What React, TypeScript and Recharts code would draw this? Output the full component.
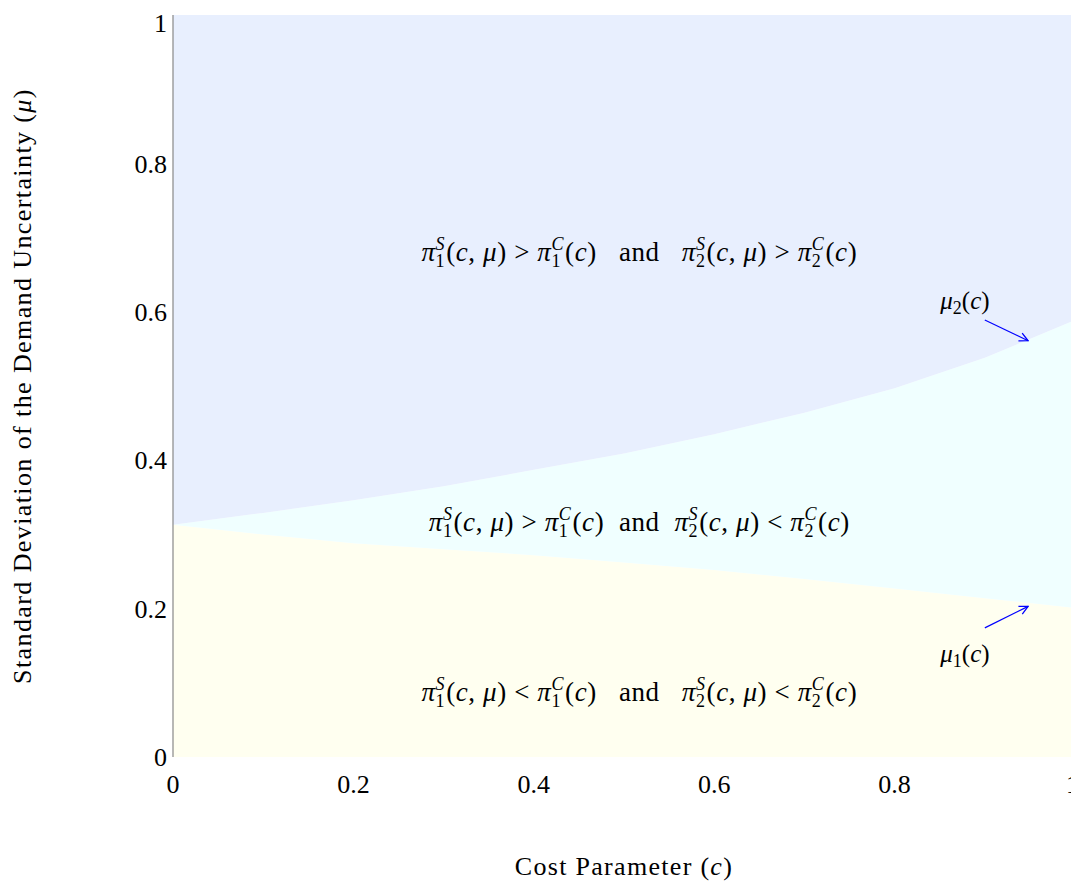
import React from 'react'
import {
  ComposedChart,
  Area,
  Line,
  Scatter,
  XAxis,
  YAxis,
  Label,
} from 'recharts'

const costs = [0, 0.1, 0.2, 0.3, 0.4, 0.5, 0.6, 0.7, 0.8, 0.9, 1]
const mu1 = [0.313, 0.3, 0.288, 0.28, 0.272, 0.262, 0.252, 0.24, 0.227, 0.214, 0.201]
const mu2 = [0.313, 0.329, 0.346, 0.365, 0.387, 0.409, 0.435, 0.464, 0.497, 0.538, 0.589]
const ticks = [0, 0.2, 0.4, 0.6, 0.8, 1]

const regionLabels = [
  { c: 0.517, mu: 0.68, id: 'top' },
  { c: 0.517, mu: 0.317, id: 'mid' },
  { c: 0.517, mu: 0.088, id: 'bottom' },
]
const curveLabels = [
  { c: 0.878, mu: 0.614, id: 'mu2' },
  { c: 0.878, mu: 0.139, id: 'mu1' },
]
const arrowMu2 = [
  { c: 0.9, mu: 0.589 },
  { c: 0.948, mu: 0.561 },
]
const arrowMu1 = [
  { c: 0.9, mu: 0.174 },
  { c: 0.948, mu: 0.203 },
]

const data = costs.map((c, i) => ({
  c,
  base: mu1[i],
  band: mu2[i] - mu1[i],
  rest: 1 - mu2[i],
}))

const FONT = '"Liberation Serif", "DejaVu Serif", serif'
const SMALL = 18

// pi with a subscript index and a superscript stacked over it
const pi = (idx: string, sup: string, key: string) => [
  <tspan key={key + 'p'} fontStyle="italic">π</tspan>,
  <tspan key={key + 'i'} fontSize={SMALL} dy={6}>{idx}</tspan>,
  <tspan key={key + 's'} fontSize={SMALL} fontStyle="italic" dx={-9.6} dy={-17}>{sup}</tspan>,
]

// argument list, first tspan brings the baseline back down
const args = (withMu: boolean, key: string) => [
  <tspan key={key + 'a'} dx={1} dy={11}>(</tspan>,
  <tspan key={key + 'b'} fontStyle="italic">c</tspan>,
  ...(withMu
    ? [
        <tspan key={key + 'c'}>, </tspan>,
        <tspan key={key + 'd'} fontStyle="italic">μ</tspan>,
      ]
    : []),
  <tspan key={key + 'e'}>)</tspan>,
]

const RegionText = (props: any) => {
  const { cx, cy, payload } = props
  const id = payload.id
  if (id === 'mu1' || id === 'mu2') {
    return (
      <text x={cx} y={cy + 8} textAnchor="middle" fontFamily={FONT} fontSize={25} fill="#000">
        <tspan fontStyle="italic">μ</tspan>
        <tspan fontSize={SMALL} dy={5}>{id === 'mu1' ? '1' : '2'}</tspan>
        <tspan dy={-5}>(</tspan>
        <tspan fontStyle="italic">c</tspan>
        <tspan>)</tspan>
      </text>
    )
  }
  const r1 = id === 'bottom' ? ' < ' : ' > '
  const r2 = id === 'top' ? ' > ' : ' < '
  const gap = id === 'mid' ? '  and  ' : '   and   '
  return (
    <text
      x={cx}
      y={cy + 9}
      textAnchor="middle"
      fontFamily={FONT}
      fontSize={27}
      letterSpacing={0.6}
      fill="#000"
      style={{ whiteSpace: 'pre' }}
    >
      {pi('1', 'S', 'a')}
      {args(true, 'a')}
      <tspan>{r1}</tspan>
      {pi('1', 'C', 'b')}
      {args(false, 'b')}
      <tspan>{gap}</tspan>
      {pi('2', 'S', 'c')}
      {args(true, 'c')}
      <tspan>{r2}</tspan>
      {pi('2', 'C', 'd')}
      {args(false, 'd')}
    </text>
  )
}

const XTitle = (props: any) => {
  const { viewBox } = props
  return (
    <text
      x={viewBox.x + viewBox.width / 2}
      y={viewBox.y + 118}
      textAnchor="middle"
      fontFamily={FONT}
      fontSize={26}
      letterSpacing={1.3}
      fill="#000"
    >
      <tspan>Cost Parameter (</tspan>
      <tspan fontStyle="italic">c</tspan>
      <tspan>)</tspan>
    </text>
  )
}

const YTitle = (props: any) => {
  const { viewBox } = props
  const x = 23
  const y = viewBox.y + viewBox.height / 2
  return (
    <text
      x={x}
      y={y}
      textAnchor="middle"
      fontFamily={FONT}
      fontSize={26}
      letterSpacing={1.4}
      fill="#000"
      transform={`rotate(-90 ${x} ${y})`}
    >
      <tspan>Standard Deviation of the Demand Uncertainty (</tspan>
      <tspan fontStyle="italic">μ</tspan>
      <tspan>)</tspan>
    </text>
  )
}

export default function App() {
  return (
    <ComposedChart
      width={1071}
      height={880}
      data={data}
      margin={{ top: 7, right: 4, bottom: 0, left: 0 }}
    >
      <defs>
        <marker id="arrow" viewBox="0 0 10 10" refX="9" refY="5" markerWidth="9" markerHeight="9" orient="auto">
          <path d="M1,1 L9,5 L1,9" fill="none" stroke="#0000ff" strokeWidth={1.2} />
        </marker>
      </defs>
      <XAxis
        dataKey="c"
        type="number"
        domain={[0, 1]}
        ticks={ticks}
        allowDataOverflow
        axisLine={false}
        tickLine={false}
        tickMargin={12}
        height={131}
        tick={{ fill: '#000', fontFamily: FONT, fontSize: 26 }}
      >
        <Label content={<XTitle />} />
      </XAxis>
      <YAxis
        type="number"
        domain={[0, 1]}
        ticks={ticks}
        allowDataOverflow
        width={165}
        axisLine={{ stroke: '#888888', strokeWidth: 1.2 }}
        tickLine={false}
        tickMargin={0}
        tick={{ fill: '#000', fontFamily: FONT, fontSize: 26 }}
      >
        <Label content={<YTitle />} />
      </YAxis>
      <Area
        type="linear"
        dataKey="base"
        stackId="s"
        fill="#fffff0"
        fillOpacity={1}
        stroke="none"
        isAnimationActive={false}
      />
      <Area
        type="linear"
        dataKey="band"
        stackId="s"
        fill="#f0ffff"
        fillOpacity={1}
        stroke="none"
        isAnimationActive={false}
      />
      <Area
        type="linear"
        dataKey="rest"
        stackId="s"
        fill="#e8effe"
        fillOpacity={1}
        stroke="none"
        isAnimationActive={false}
      />
      <Line
        data={arrowMu2}
        dataKey="mu"
        stroke="#0000ff"
        strokeWidth={1.2}
        dot={false}
        markerEnd="url(#arrow)"
        isAnimationActive={false}
      />
      <Line
        data={arrowMu1}
        dataKey="mu"
        stroke="#0000ff"
        strokeWidth={1.2}
        dot={false}
        markerEnd="url(#arrow)"
        isAnimationActive={false}
      />
      <Scatter data={regionLabels} dataKey="mu" shape={<RegionText />} isAnimationActive={false} />
      <Scatter data={curveLabels} dataKey="mu" shape={<RegionText />} isAnimationActive={false} />
    </ComposedChart>
  )
}
